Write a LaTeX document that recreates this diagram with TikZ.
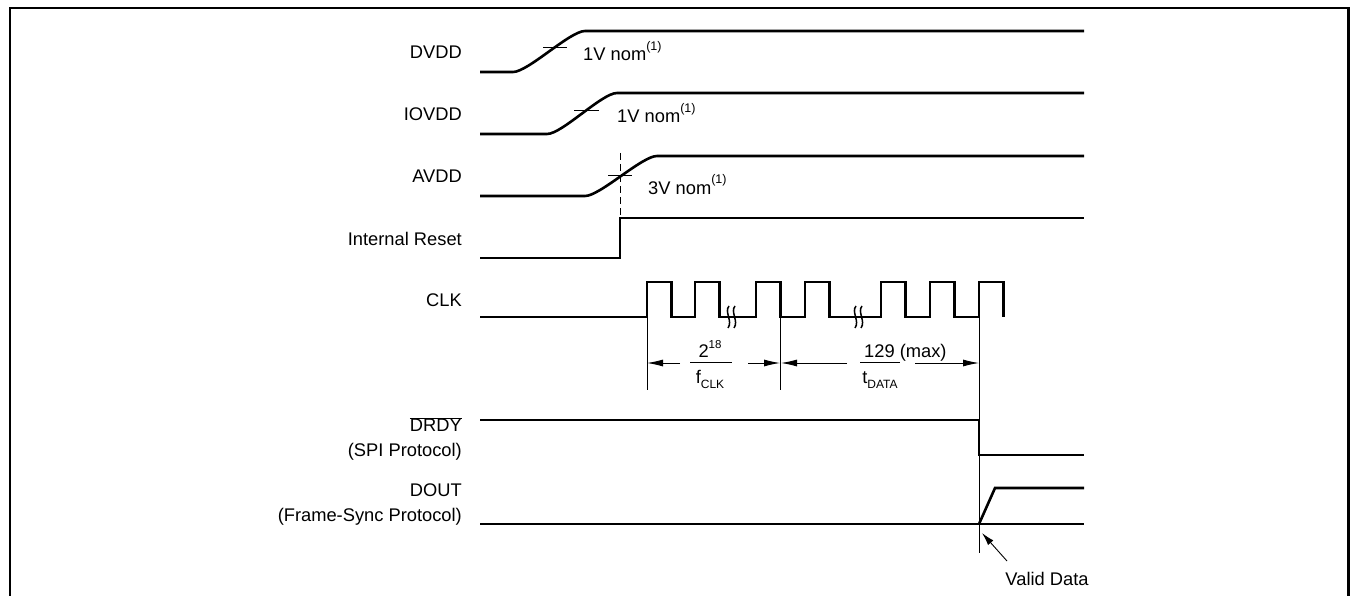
\documentclass[tikz,border=0pt]{standalone}
\usepackage{fontspec}
\setmainfont{Liberation Sans}
\usepackage{tikz}
\usetikzlibrary{arrows.meta,positioning,calc}
\newcommand{\supnote}[1]{\raisebox{10pt}{\fontsize{12.5}{12.5}\selectfont #1}}
\newcommand{\subnote}[1]{\raisebox{-5pt}{\fontsize{12}{12}\selectfont #1}}

\begin{document}
\begin{tikzpicture}[x=1pt,y=-1pt,
  sig/.style={line width=2.6pt},
  thin/.style={line width=0.9pt},
  lbl/.style={anchor=east,inner sep=0pt,align=right,font=\fontsize{18.3}{25}\selectfont},
  txt/.style={inner sep=0pt,font=\fontsize{18.3}{21}\selectfont},
  dim/.style={thin,-{Latex[length=16pt,width=7pt]}}]
  \useasboundingbox (0,0) rectangle (1351,596);
  % frame
  \draw[line width=2.8pt] (10,600) -- (10,8) -- (1348.5,8) -- (1348.5,600);

  % signal names
  \node[lbl] (dvdd) at (462,52) {DVDD};
  \node[lbl] (iovdd) at (462,114) {IOVDD};
  \node[lbl] (avdd) at (462,176) {AVDD};
  \node[lbl] (rst) at (462,239) {Internal Reset};
  \node[lbl] (clk) at (462,300) {CLK};
  \node[lbl] (drdy) at (462,439) {$\overline{\mbox{DRDY}}$\\(SPI Protocol)};
  \node[lbl] (dout) at (462,505) {DOUT\\(Frame-Sync Protocol)};

  % supplies
  \draw[sig] (480,72) -- (513,72) .. controls +(15,0) and +(-15,0) .. (585,31) -- (1084,31);
  \draw[thin] (543,47) -- (567,47);
  \node[txt,anchor=base west] (nomd) at (583,61) {1V nom\supnote{(1)}};

  \draw[sig] (480,134) -- (547,134) .. controls +(15,0) and +(-15,0) .. (617,93) -- (1084,93);
  \draw[thin] (574,110) -- (599,110);
  \node[txt,anchor=base west] (nomio) at (617,123) {1V nom\supnote{(1)}};

  \draw[sig] (480,196) -- (585,196) .. controls +(15,0) and +(-15,0) .. (657,156) -- (1084,156);
  \draw[thin] (608,175) -- (632,175);
  \node[txt,anchor=base west] (noma) at (648,194) {3V nom\supnote{(1)}};

  % reset
  \draw[thin,dash pattern=on 7pt off 4pt] (620,153) -- (620,218);
  \draw[sig] (480,258) -- (620,258) -- (620,218) -- (1084,218);

  % clock
  \draw[sig] (480,317) foreach \r in {647,695,756,805,881,930,979} {
    -- (\r,317) -- (\r,282) -- ++(24.5,0) -- ++(0,35) };
  \foreach \s in {728,855} {
    \draw[line width=1.5pt] (\s+1,306) .. controls (\s-4,312) and (\s+5,321) .. (\s,328);
    \draw[line width=1.5pt] (\s+7,306) .. controls (\s+2,312) and (\s+11,321) .. (\s+6,328);
  }

  % timing marks
  \coordinate (ta) at (647,363);
  \coordinate (tb) at (780,363);
  \coordinate (tc) at (979,363);
  \draw[thin] (647,317) -- (647,390);
  \draw[thin] (780,317) -- (780,390);
  \draw[thin] (979,317) -- (979,553);
  \draw[dim] ($(ta)+(33,0)$) -- (ta);
  \draw[dim] ($(tb)+(-32,0)$) -- (tb);
  \draw[dim] ($(tb)+(67,0)$) -- ($(tb)+(1,0)$);
  \draw[dim] ($(tc)+(-64,0)$) -- (tc);

  \node[txt,anchor=base] (clknum) at (710,357) {2\raisebox{9pt}{\fontsize{11.5}{11.5}\selectfont 18}};
  \draw[thin] (690,362) -- (732,362);
  \node[txt,anchor=base] (clkden) at (710,383) {f\subnote{CLK}};

  \node[txt,anchor=base west] (datnum) at (864,357) {129 (max)};
  \draw[thin] (860,362) -- (900,362);
  \node[txt,anchor=base] (datden) at (880,383) {t\subnote{DATA}};

  % outputs
  \draw[sig] (480,420) -- (979,420) -- (979,455) -- (1084,455);
  \draw[sig] (480,524) -- (1084,524);
  \draw[sig] (979,524) -- (995,488) -- (1084,488);

  \node[txt] (valid) at (1047,579) {Valid Data};
  \coordinate (vd) at (982,533);
  \draw[thin,-{Latex[length=13pt,width=7pt]}] (1007,561) -- (vd);
\end{tikzpicture}
\end{document}
